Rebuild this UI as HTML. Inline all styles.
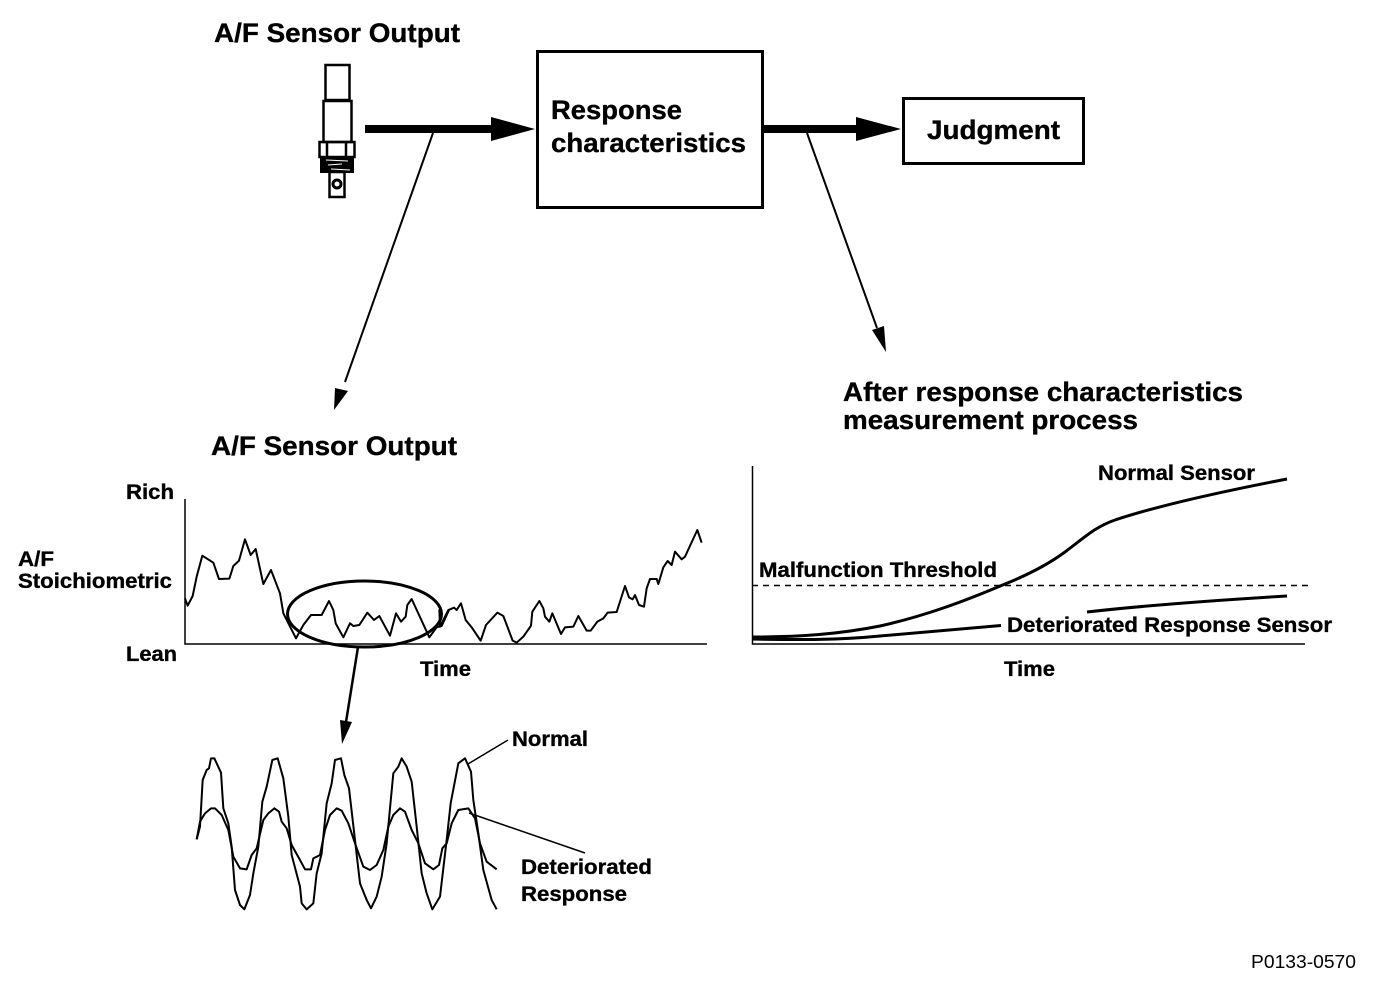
<!DOCTYPE html>
<html>
<head>
<meta charset="utf-8">
<style>
html,body{margin:0;padding:0;background:#fff}
svg{display:block}
text{font-family:"Liberation Sans",sans-serif;font-weight:bold;fill:#000;stroke:#000;stroke-width:.35}
</style>
</head>
<body>
<svg width="1392" height="986" viewBox="0 0 1392 986" xmlns="http://www.w3.org/2000/svg">
<rect width="1392" height="986" fill="#fff"/>

<!-- Sensor -->
<g fill="none" stroke="#000" stroke-width="2.500">
<rect x="325.500" y="65" width="24" height="35"/>
<rect x="323.500" y="101" width="28" height="41"/>
<rect x="319.500" y="142" width="35" height="15"/>
<path d="M327 142V157M346 142V157"/>
<rect x="329.500" y="172" width="15" height="25"/>
</g>
<circle cx="337" cy="184" r="4" fill="none" stroke="#000" stroke-width="3"/>
<rect x="320" y="157" width="34" height="16" fill="#000"/>
<path d="M326 160L348 161M328 165L342 164M331 169L350 170" stroke="#fff" stroke-width="1" fill="none"/>

<!-- Boxes -->
<rect x="537.500" y="51.500" width="225" height="156" fill="none" stroke="#000" stroke-width="3"/>
<rect x="903.500" y="98.500" width="180" height="65" fill="none" stroke="#000" stroke-width="3"/>

<!-- Thick arrows -->
<rect x="365" y="125" width="130" height="8"/>
<path d="M491 117L535 129L491 141Z"/>
<rect x="763" y="125" width="100" height="8"/>
<path d="M856 117L901 129L856 141Z"/>

<!-- Thin arrows -->
<path d="M433 133L345 382" stroke="#000" stroke-width="2" fill="none"/>
<path d="M334 410L335 388L348 391Z"/>
<path d="M807 133L877 328" stroke="#000" stroke-width="2" fill="none"/>
<path d="M886 352L872 330L884 326Z"/>
<path d="M358 647L346 722" stroke="#000" stroke-width="2.500" fill="none"/>
<path d="M342 744L340 720L352 722Z"/>

<!-- Left chart axes -->
<path d="M185 499V644H707" fill="none" stroke="#000" stroke-width="1.500"/>
<!-- Left chart trace -->
<g transform="translate(170 510) scale(.33333)" fill="none" stroke="#000" stroke-width="6" stroke-linejoin="round">
<polyline points="45,265 53,287 68,258 80,200 97,137 130,158 147,207 178,206 190,168 207,152 225,88 242,135 257,117 280,222 303,180 330,250 340,310 378,385 400,345 423,315 455,315 477,273 490,300 497,340 520,382 540,340 550,348 568,345 592,308 612,330 628,318 660,377 678,310 693,335 707,320 712,285 725,267 778,382 800,352 815,348 838,298"/>
</g>
<g transform="translate(440 510) scale(.33333)" fill="none" stroke="#000" stroke-width="6" stroke-linejoin="round">
<polyline points="-2,298 0,350 25,300 42,293 50,300 63,280 77,330 95,352 122,392 138,345 172,308 190,318 218,392 230,398 250,380 273,347 277,305 298,273 310,295 315,320 328,335 337,310 363,372 375,352 400,350 415,318 440,362 452,362 472,335 490,325 503,308 530,306 555,228 567,262 578,268 585,255 597,285 612,290 620,235 630,207 650,207 655,222 670,172 683,153 695,165 705,125 725,148 735,140 772,60 785,98"/>
</g>
<ellipse cx="364.500" cy="614" rx="77" ry="33" fill="none" stroke="#000" stroke-width="3"/>

<!-- Wave chart -->
<g transform="translate(185 740) scale(.33333)" fill="none" stroke="#000" stroke-width="6" stroke-linejoin="round">
<polyline points="35,298 45,260 53,120 65,90 72,85 78,55 88,55 108,98 115,205 130,250 140,320 150,450 165,495 178,508 195,465 205,400 220,320 232,185 245,140 262,60 278,55 295,115 310,230 320,345 345,440 350,490 365,508 385,490 395,400 410,340 425,190 440,130 450,60 468,55 478,105 492,145 510,300 525,430 545,480 558,505 575,470 590,410 605,310 625,100 640,80 650,55 665,80 680,125 695,260 710,400 725,460 742,508 765,470 785,300 797,190 820,70 840,55 858,95 865,180 880,280 895,390 920,480 935,508"/>
<polyline points="35,298 45,245 60,220 78,205 90,205 110,225 130,270 145,350 165,385 185,388 200,345 215,325 235,240 250,220 268,205 282,215 290,245 305,265 320,315 345,360 360,388 378,388 385,355 405,345 420,270 435,225 455,205 470,212 490,250 510,310 535,380 555,390 575,375 595,330 610,260 625,225 645,205 660,215 680,270 700,310 720,370 745,388 762,375 772,325 785,310 800,250 820,210 850,205 870,235 885,310 905,365 935,388"/>
</g>
<path d="M468 764L508 740M469 813L585 853" stroke="#000" stroke-width="1.500" fill="none"/>

<!-- Right chart -->
<path d="M752.500 466V644H1305" fill="none" stroke="#000" stroke-width="1.500"/>
<path d="M752 585.500H1308" fill="none" stroke="#000" stroke-width="1.500" stroke-dasharray="6 5"/>
<path d="M752 637C800 637 840 634 880 626C925 616 965 601 1005 584C1030 574 1050 563 1065 552C1085 537 1095 527 1115 520C1160 505 1230 490 1287 479" fill="none" stroke="#000" stroke-width="3"/>
<path d="M752 639C800 640 840 640 880 636C925 632 965 629 1001 625.500" fill="none" stroke="#000" stroke-width="3"/>
<path d="M1087 612C1140 606 1220 600 1287 596" fill="none" stroke="#000" stroke-width="3"/>

<!-- Text -->
<text x="214" y="42" font-size="26.500" textLength="246" lengthAdjust="spacingAndGlyphs">A/F Sensor Output</text>
<text x="551" y="119" font-size="26.500" textLength="131" lengthAdjust="spacingAndGlyphs">Response</text>
<text x="551" y="152" font-size="26.500" textLength="195" lengthAdjust="spacingAndGlyphs">characteristics</text>
<text x="927" y="139" font-size="26.500" textLength="133" lengthAdjust="spacingAndGlyphs">Judgment</text>
<text x="843" y="401" font-size="26.500" textLength="400" lengthAdjust="spacingAndGlyphs">After response characteristics</text>
<text x="843" y="429" font-size="26.500" textLength="295" lengthAdjust="spacingAndGlyphs">measurement process</text>
<text x="211" y="455" font-size="26.500" textLength="246" lengthAdjust="spacingAndGlyphs">A/F Sensor Output</text>
<text x="126" y="499" font-size="21" textLength="48" lengthAdjust="spacingAndGlyphs">Rich</text>
<text x="18" y="566" font-size="21" textLength="36" lengthAdjust="spacingAndGlyphs">A/F</text>
<text x="18" y="588" font-size="21" textLength="154" lengthAdjust="spacingAndGlyphs">Stoichiometric</text>
<text x="126" y="661" font-size="21" textLength="51" lengthAdjust="spacingAndGlyphs">Lean</text>
<text x="420" y="676" font-size="21" textLength="51" lengthAdjust="spacingAndGlyphs">Time</text>
<text x="512" y="746" font-size="21" textLength="76" lengthAdjust="spacingAndGlyphs">Normal</text>
<text x="521" y="874" font-size="21" textLength="131" lengthAdjust="spacingAndGlyphs">Deteriorated</text>
<text x="521" y="901" font-size="21" textLength="106" lengthAdjust="spacingAndGlyphs">Response</text>
<text x="1098" y="480" font-size="21" textLength="157" lengthAdjust="spacingAndGlyphs">Normal Sensor</text>
<text x="759" y="577" font-size="21" textLength="238" lengthAdjust="spacingAndGlyphs">Malfunction Threshold</text>
<text x="1007" y="632" font-size="21" textLength="325" lengthAdjust="spacingAndGlyphs">Deteriorated Response Sensor</text>
<text x="1004" y="676" font-size="21" textLength="51" lengthAdjust="spacingAndGlyphs">Time</text>
<text x="1251" y="968" font-size="18" textLength="105" lengthAdjust="spacingAndGlyphs" style="font-weight:normal;stroke:none">P0133-0570</text>
</svg>
</body>
</html>
